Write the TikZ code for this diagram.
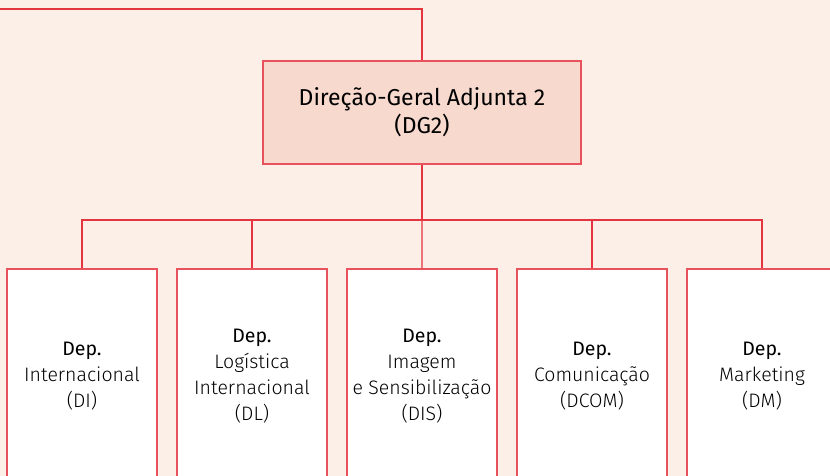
\documentclass[tikz,border=0pt]{standalone}
\usepackage{fontspec}
\setmainfont{Fira Sans}
\IfFontExistsTF{Fira Sans Light}{\newfontfamily\thinfont{Fira Sans Light}}{\newcommand{\thinfont}{\relax}}
\usetikzlibrary{positioning}
\definecolor{orgred}{HTML}{E3343F}
\definecolor{orgbg}{HTML}{FCEFE7}
\definecolor{orgtop}{HTML}{F8D9CE}
\tikzset{
	topbox/.style={draw=orgred!85, fill=orgtop, line width=1.3pt, minimum width=318pt, minimum height=103pt, align=center, font=\fontsize{23}{28}\selectfont},
	depbox/.style={draw=orgred!85, fill=white, line width=1.3pt, minimum width=150pt, minimum height=214pt, align=center, font=\fontsize{19.5}{26}\selectfont},
	orgline/.style={draw=orgred, line width=1.3pt}
}

\begin{document}
\begin{tikzpicture}[x=1pt, y=-1pt]
		%%%%% START %%%%%
		\useasboundingbox (0, 0) rectangle (830, 476);
		\fill[orgbg] (0, 0) rectangle (830, 476);
		\clip (0, 0) rectangle (830, 476);
		
		\node[topbox] (dg2) at (422, 112.5) {Direção-Geral Adjunta 2\\(DG2)};
		
		\node[depbox] (di) at (82, 376) {Dep.\\\thinfont Internacional\\\thinfont (DI)};
		\node[depbox, right=18.7pt of di] (dl) {Dep.\\\thinfont Logística\\\thinfont Internacional\\\thinfont (DL)};
		\node[depbox, right=18.7pt of dl] (dis) {Dep.\\\thinfont Imagem\\\thinfont e Sensibilização\\\thinfont (DIS)};
		\node[depbox, right=18.7pt of dis] (dcom) {Dep.\\\thinfont Comunicação\\\thinfont (DCOM)};
		\node[depbox, right=18.7pt of dcom] (dm) {Dep.\\\thinfont Marketing\\\thinfont (DM)};
		
		\coordinate (top) at (0, 9);
		\coordinate (bus) at (422, 220);
		
		\draw[orgline] (top) -| (dg2.north);
		\draw[orgline] (dg2.south) -- (bus);
		\draw[orgline] (bus) -| (di.north);
		\draw[orgline] (bus) -| (dl.north);
		\draw[orgline] (bus) -- (dis.north);
		\draw[orgline] (bus) -| (dcom.north);
		\draw[orgline] (bus) -| (dm.north);
		%%%%% END %%%%%
	\end{tikzpicture}
\end{document}
